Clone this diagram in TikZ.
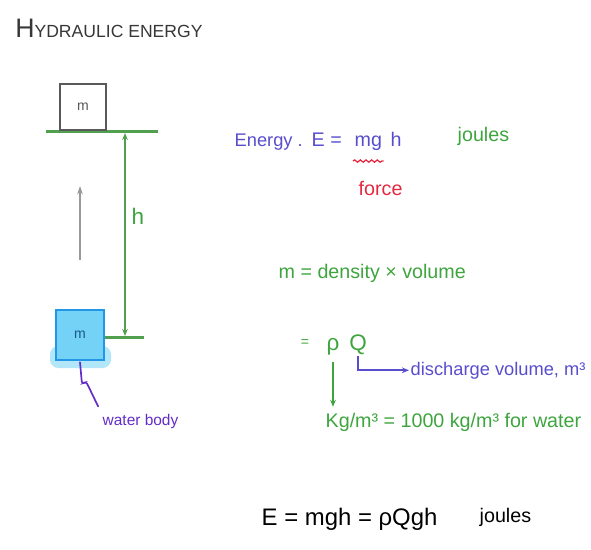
\documentclass[tikz,border=0pt]{standalone}
\usepackage{fontspec}
\setmainfont{Liberation Sans}
\usetikzlibrary{arrows.meta, positioning, decorations.pathmorphing}
\definecolor{inkblue}{RGB}{88,78,205}
\definecolor{inkgreen}{RGB}{62,165,62}
\definecolor{inkred}{RGB}{228,40,64}
\definecolor{inkviolet}{RGB}{98,45,200}
\definecolor{inkgray}{RGB}{55,55,55}
\definecolor{waterfill}{RGB}{115,210,245}
\definecolor{waterline}{RGB}{35,150,230}
\definecolor{groundgreen}{RGB}{80,160,80}
\tikzset{
  handtext/.style={
    inner sep=1pt, anchor=base west,
    font=\fontsize{14}{16}\selectfont, text=#1
  },
  titletext/.style={
    inner sep=0pt, anchor=base west,
    font=\fontsize{19}{22}\selectfont, text=inkgray
  },
  groundline/.style={line width=1.8pt, color=groundgreen},
  dimarrow/.style={
    {Stealth[length=5pt,width=4pt]}-{Stealth[length=5pt,width=4pt]},
    line width=1.5pt, draw=groundgreen
  },
  risearrow/.style={-{Stealth[length=6pt,width=4pt]}, line width=0.9pt, draw=gray!80},
  massbox/.style={
    rectangle, minimum width=1.15cm, minimum height=1.15cm,
    font=\fontsize{10}{12}\selectfont,
    draw=#1!70!black, line width=0.9pt, text=#1!70!black
  },
  waterbox/.style={
    rectangle, minimum width=1.18cm, minimum height=1.25cm,
    font=\fontsize{10}{12}\selectfont,
    draw=waterline, line width=1.3pt, fill=waterfill, text=waterline!60!black
  },
  noteline/.style={line width=1.2pt, draw=#1, rounded corners=2pt, line cap=round},
  notearrow/.style={-{Stealth[length=5pt,width=4pt]}, line width=1.4pt, draw=#1},
  wavyline/.style={
    draw=inkred, line width=0.9pt,
    decorate, decoration={snake, amplitude=0.8pt, segment length=4pt}
  },
}

\begin{document}
\begin{tikzpicture}[x=0.025cm, y=-0.025cm]
      \useasboundingbox (0,0) rectangle (591,550);
      \node[titletext](title) at (15,38) {H{\fontsize{12.5}{14}\selectfont YDRAULIC ENERGY}};
      \coordinate (topL) at (46,131.5);
      \coordinate (topR) at (158,131.5);
      \coordinate (botL) at (104,337.5);
      \coordinate (botR) at (144,337.5);
      \draw[groundline](topL)--(topR);
      \draw[groundline](botL)--(botR);
      \node[massbox=gray](massTop) at (83,107) {m};
      \fill[waterfill!55, rounded corners=6pt] (50,346) rectangle (111,368);
      \node[waterbox](massBot) at (80,335) {m};
      \coordinate (hTop) at (125,133);
      \coordinate (hBot) at (125,336);
      \draw[dimarrow](hTop)--(hBot);
      \node[handtext=inkgreen, anchor=center, font=\fontsize{16}{18}\selectfont](hlabel) at (138,216) {h};
      \coordinate (riseStart) at (80,260);
      \coordinate (riseEnd) at (80,186);
      \draw[risearrow](riseStart)--(riseEnd);
      \node[handtext=inkviolet, font=\fontsize{11}{13}\selectfont](waterlabel) at (101,425) {water body};
      \draw[noteline=inkviolet]([yshift=-1pt]massBot.south)--++(2,22)--++(4,-3)--([shift={(-2pt,4pt)}]waterlabel.north west);
      \node[handtext=inkblue, font=\fontsize{13}{15}\selectfont](energyword) at (233,147) {Energy .};
      \node[handtext=inkblue](eqE) at (310,147) {E =};
      \node[handtext=inkblue](mgterm) at (353,147) {mg};
      \node[handtext=inkblue](hterm) at (389,147) {h};
      \node[handtext=inkgreen](joulesTop) at (456,142) {joules};
      \draw[wavyline]([yshift=-10pt]mgterm.base west)--([yshift=-10pt]mgterm.base east);
      \node[handtext=inkred](force) at (357,196) {force};
      \node[handtext=inkgreen](density) at (277,278) {m = density × volume};
      \node[handtext=inkgreen, anchor=base, font=\fontsize{10}{12}\selectfont](eqsign) at (305,346) {=};
      \node[handtext=inkgreen, anchor=base, font=\fontsize{16}{18}\selectfont](rho) at (333,350) {ρ};
      \node[handtext=inkgreen, anchor=base, font=\fontsize{16}{18}\selectfont](flowQ) at (358,350) {Q};
      \node[handtext=inkblue, font=\fontsize{13}{15}\selectfont](discharge) at (409,375) {discharge volume, m³};
      \node[handtext=inkgreen](kgline) at (324,427) {Kg/m³ = 1000 kg/m³ for water};
      \draw[notearrow=inkblue](flowQ.south)|-(discharge.west);
      \draw[notearrow=inkgreen]([yshift=-4pt]rho.south)--([yshift=3pt]rho.south |- kgline.north);
      \node[handtext=black, font=\fontsize{17}{19}\selectfont](total) at (260,525) {E = mgh = ρQgh};
      \node[handtext=black](joulesBot) at (478,522) {joules};
    \end{tikzpicture}
\end{document}
